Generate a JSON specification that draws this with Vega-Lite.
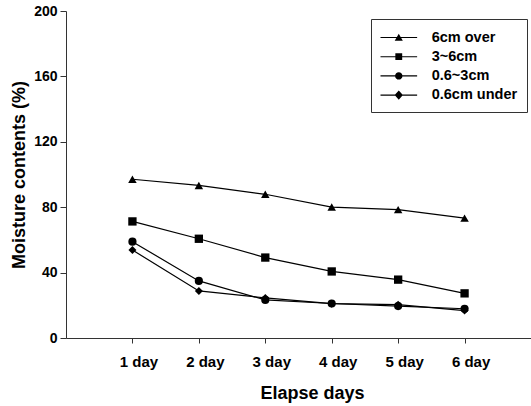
{
  "$schema": "https://vega.github.io/schema/vega-lite/v6.json",
  "width": 465,
  "height": 327,
  "autosize": {"type": "none"},
  "padding": {"left": 66, "top": 11, "right": 0, "bottom": 68},
  "background": "white",
  "config": {
    "view": {"stroke": null},
    "font": "Liberation Sans",
    "axis": {"domainColor": "#333", "tickColor": "#333", "labelColor": "black", "titleColor": "black", "grid": false, "labelOverlap": false, "labelFontWeight": "bold", "titleFontWeight": "bold"}
  },
  "data": {
    "values": [
      {"day": 1, "series": "6cm over", "value": 97.1},
      {"day": 2, "series": "6cm over", "value": 93.3},
      {"day": 3, "series": "6cm over", "value": 87.9},
      {"day": 4, "series": "6cm over", "value": 80.1},
      {"day": 5, "series": "6cm over", "value": 78.5},
      {"day": 6, "series": "6cm over", "value": 73.3},
      {"day": 1, "series": "3~6cm", "value": 71.3},
      {"day": 2, "series": "3~6cm", "value": 60.7},
      {"day": 3, "series": "3~6cm", "value": 49.2},
      {"day": 4, "series": "3~6cm", "value": 40.7},
      {"day": 5, "series": "3~6cm", "value": 35.7},
      {"day": 6, "series": "3~6cm", "value": 27.3},
      {"day": 1, "series": "0.6~3cm", "value": 58.9},
      {"day": 2, "series": "0.6~3cm", "value": 34.9},
      {"day": 3, "series": "0.6~3cm", "value": 23.3},
      {"day": 4, "series": "0.6~3cm", "value": 21.1},
      {"day": 5, "series": "0.6~3cm", "value": 19.5},
      {"day": 6, "series": "0.6~3cm", "value": 17.9},
      {"day": 1, "series": "0.6cm under", "value": 53.8},
      {"day": 2, "series": "0.6cm under", "value": 28.8},
      {"day": 3, "series": "0.6cm under", "value": 24.5},
      {"day": 4, "series": "0.6cm under", "value": 21.0},
      {"day": 5, "series": "0.6cm under", "value": 20.4},
      {"day": 6, "series": "0.6cm under", "value": 16.8}
    ]
  },
  "encoding": {
    "x": {
      "field": "day", "type": "quantitative",
      "scale": {"domain": [0, 7], "nice": false, "zero": false},
      "axis": {
        "title": "Elapse days", "values": [1, 2, 3, 4, 5, 6],
        "labelExpr": "datum.value + ' day'",
        "tickSize": 5, "labelFontSize": 15, "labelOffset": 6,
        "labelBaseline": "alphabetic", "labelPadding": 23, "labelFlush": false,
        "titleFontSize": 18, "titleX": 246, "titleY": 60, "titleBaseline": "alphabetic", "titleAnchor": "middle", "titleAlign": "center"
      }
    },
    "y": {
      "field": "value", "type": "quantitative",
      "scale": {"domain": [0, 200], "nice": false},
      "axis": {
        "title": "Moisture contents (%)", "values": [0, 40, 80, 120, 160, 200],
        "tickSize": 6, "labelPadding": 3, "labelFontSize": 14,
        "titleFontSize": 18, "titlePadding": 5
      }
    }
  },
  "layer": [
    {
      "mark": {"type": "line", "color": "black", "strokeWidth": 1.2},
      "encoding": {"detail": {"field": "series"}}
    },
    {
      "mark": {"type": "point", "filled": true, "color": "black", "opacity": 1},
      "encoding": {
        "shape": {
          "field": "series",
          "scale": {"domain": ["6cm over", "3~6cm", "0.6~3cm", "0.6cm under"], "range": ["triangle-up", "square", "circle", "diamond"]},
          "legend": null
        },
        "size": {
          "field": "series", "type": "nominal",
          "scale": {"domain": ["6cm over", "3~6cm", "0.6~3cm", "0.6cm under"], "range": [72, 64, 56, 94]},
          "legend": null
        }
      }
    },
    {
      "mark": {"type": "point", "filled": true, "color": "black", "opacity": 0},
      "encoding": {
        "shape": {
          "field": "series",
          "scale": {
            "domain": ["6cm over", "3~6cm", "0.6~3cm", "0.6cm under"],
            "range": [
              "M-1,-0.06H3.07V0.06H-1ZM1.03,-0.42L1.48,0.36L0.58,0.36Z",
              "M-1,-0.06H3.07V0.06H-1ZM0.65,-0.38H1.41V0.38H0.65Z",
              "M-1,-0.06H3.07V0.06H-1ZM1.44,0A0.41,0.41 0 1,1 0.62,0A0.41,0.41 0 1,1 1.44,0Z",
              "M-1,-0.06H3.07V0.06H-1ZM1.03,-0.52L1.49,0L1.03,0.52L0.57,0Z"
            ]
          },
          "legend": {
            "title": null, "orient": "none", "legendX": 305, "legendY": 8,
            "strokeColor": "#333", "fillColor": "white", "padding": 9.5,
            "labelFontSize": 14.5, "labelFontWeight": "bold", "labelColor": "black",
            "labelOffset": 33.2, "symbolSize": 324, "symbolOffset": 0, "rowPadding": 3.2,
            "symbolStrokeWidth": 0, "symbolFillColor": "black", "symbolOpacity": 1,
            "encode": {"symbols": {"update": {"opacity": {"value": 1}, "fill": {"value": "black"}, "fillOpacity": {"value": 1}}}}
          }
        }
      }
    }
  ],
  "resolve": {"scale": {"shape": "independent", "size": "independent"}, "legend": {"shape": "independent"}}
}
